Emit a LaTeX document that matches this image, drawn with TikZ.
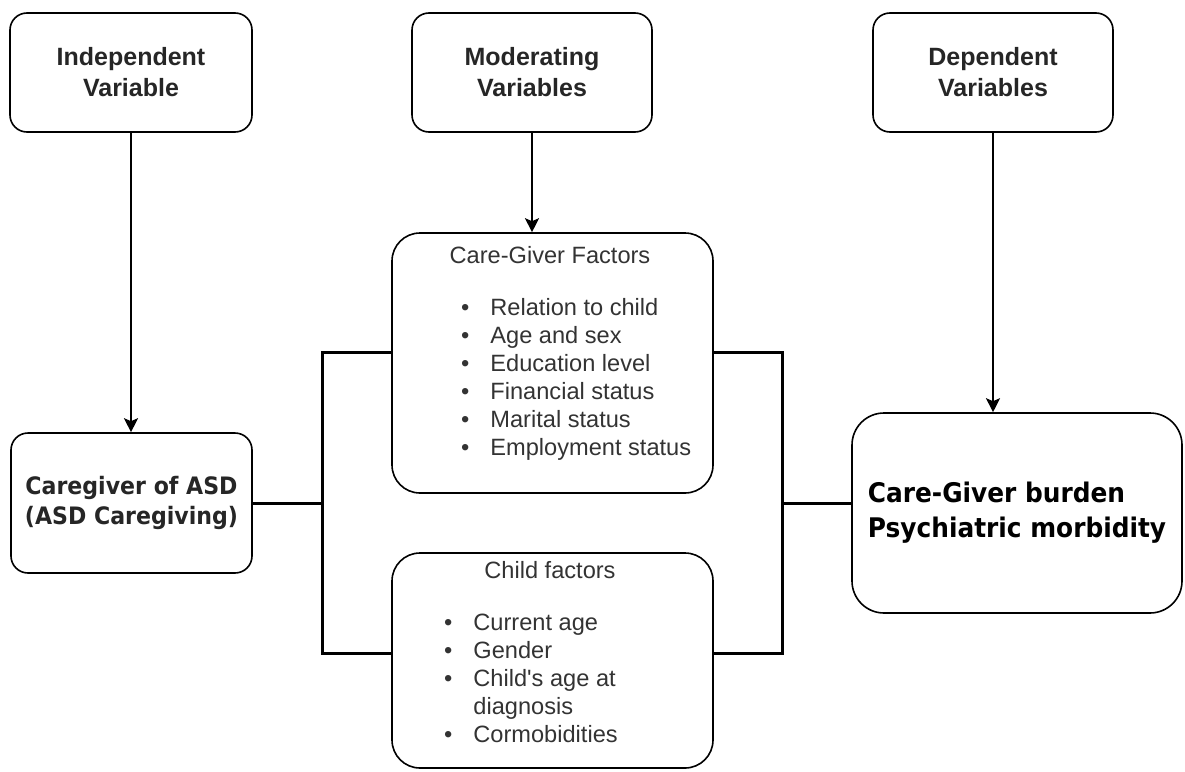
\documentclass[tikz,border=0pt]{standalone}
\usepackage{fontspec}
\setmainfont{Liberation Sans}
\newfontfamily\headfont[FakeStretch=0.92]{DejaVu Sans}
\usetikzlibrary{arrows.meta}
\tikzset{>={Stealth[length=14pt,width=14pt,inset=3pt]}}
\newcommand\titlefont{\bfseries\fontsize{25}{31}\selectfont}
\newcommand\itemfont{\fontsize{23.6}{28}\selectfont}
\tikzset{
  varbox/.style={draw, rounded corners=17pt, line width=1.6pt, align=center, inner sep=0pt, text=black!85},
  factorbox/.style={varbox, rounded corners=28pt, minimum width=321, text=black!80},
  link/.style={line width=3pt},
  arr/.style={->, line width=1.6pt},
}
\begin{document}
\begin{tikzpicture}[x=1pt, y=-1pt]
  \useasboundingbox (0,0) rectangle (1185,771);
  \node[varbox, minimum width=242, minimum height=119, font=\titlefont] (indep) at (131,72.5) {Independent\\Variable};
  \node[varbox, minimum width=240, minimum height=119, font=\titlefont] (moder) at (532,72.5) {Moderating\\Variables};
  \node[varbox, minimum width=240, minimum height=119, font=\titlefont] (depen) at (993,72.5) {Dependent\\Variables};
  \node[varbox, minimum width=241, minimum height=140, font=\headfont\bfseries\fontsize{24}{30}\selectfont] (care) at (131.5,503) {Caregiver of ASD\\(ASD Caregiving)};
  \node[factorbox, minimum height=260] (cgf) at (552.5,363) {};
  \node[factorbox, minimum height=215] (child) at (552.5,660.5) {};
  \node[varbox, rounded corners=32pt, minimum width=330, minimum height=200, align=left, text=black, font=\headfont\bfseries\fontsize{27}{35}\selectfont] (burden) at (1017,513) {Care-Giver burden\\Psychiatric morbidity};
  \node[anchor=base, inner sep=0, font=\itemfont, text=black!80] (cgftitle) at (550,263) {Care-Giver Factors};
  \node[anchor=base west, inner sep=0, font=\itemfont, text=black!80] (cgflist) at (461,315) {\begin{tabular}[t]{@{}l@{\hspace{21pt}}l@{}}
    \textbullet & Relation to child\\
    \textbullet & Age and sex\\
    \textbullet & Education level\\
    \textbullet & Financial status\\
    \textbullet & Marital status\\
    \textbullet & Employment status
  \end{tabular}};
  \node[anchor=base, inner sep=0, font=\itemfont, text=black!80] (childtitle) at (550,578) {Child factors};
  \node[anchor=base west, inner sep=0, font=\itemfont, text=black!80] (childlist) at (444,630) {\begin{tabular}[t]{@{}l@{\hspace{21pt}}l@{}}
    \textbullet & Current age\\
    \textbullet & Gender\\
    \textbullet & Child\textquotesingle s age at\\
                & diagnosis\\
    \textbullet & Cormobidities
  \end{tabular}};
  \coordinate (jl) at (322,503);
  \coordinate (jr) at (782,503);
  \coordinate (cgfL) at ([yshift=11pt]cgf.west);
  \coordinate (cgfR) at ([yshift=11pt]cgf.east);
  \coordinate (childL) at ([yshift=7.5pt]child.west);
  \coordinate (childR) at ([yshift=7.5pt]child.east);
  \coordinate (burdenL) at ([yshift=10pt]burden.west);
  \draw[arr] (indep.south) -- (indep.south |- care.north);
  \draw[arr] (moder.south) -- (moder.south |- cgf.north);
  \draw[arr] (depen.south) -- (depen.south |- burden.north);
  \draw[link] (care.east) -- (jl);
  \draw[link] (cgfL) -| (jl) |- (childL);
  \draw[link] (cgfR) -| (jr) |- (childR);
  \draw[link] (jr) -- (burdenL);
\end{tikzpicture}
\end{document}
